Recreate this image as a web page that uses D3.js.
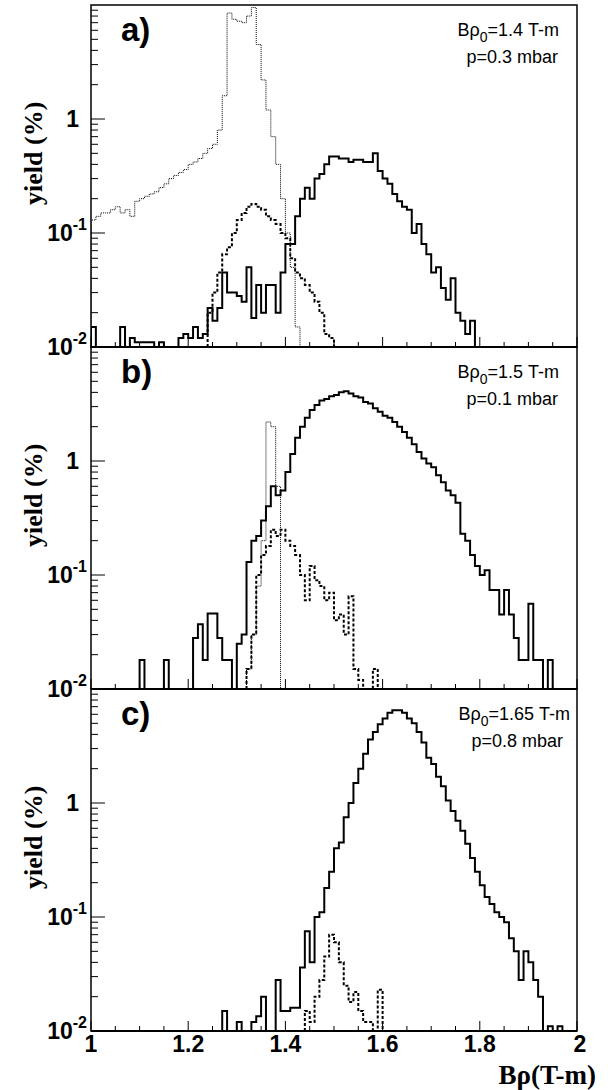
<!DOCTYPE html>
<html><head><meta charset="utf-8">
<script src="https://cdn.jsdelivr.net/npm/d3@7"></script>
<style>body{margin:0;background:#fff}</style>
</head><body>
<svg id="c" width="608" height="1090"></svg>
<script>
// histograms, bins of 0.01 in B-rho; each series = [start, values...]
const binW = 0.01;
const aSolid = [1.00, .015,0,0,0,0,0,.015,0,.012,.011, .011,.011,.011,.01,.011,.01,.01,.01,.012,.013,
  .012,.015,.012,.013,.022,.017,.022,.045,.03,.03, .028,.025,.05,.018,.035,.02,.035,.035,.02,.045,
  .08,.08,.14,.2,.25,.2,.3,.33,.4,.47, .47,.45,.45,.42,.44,.44,.42,.42,.5,.35,
  .3,.27,.22,.19,.17,.16,.1,.12,.08,.065, .045,.05,.033,.026,.04,.02,.017,.013,.017,0, .01,0,.01];
const aDash = [1.24, .02,.03,.045,.065,.075,.1,.13,.15,.17, .18,.17,.16,.14,.13,.12,.1,.09,.06,.045,
  .04,.035,.03,.025,.02,.013,.012];
const aDot = [1.00, .13,.14,.15,.15,.16,.17,.15,.16,.14,.19, .2,.21,.22,.23,.25,.27,.3,.32,.34,.36,
  .4,.42,.45,.5,.55,.6,.8,1.6,8.5,7.5, 7.2,7.0,8.0,9.5,4.5,2.2,1.2,.7,.4,.2, .1,.05,.015];
const bSolid = [1.10, .018,0,0,0,0,.018,0,0,0,0, 0,.028,.037,.018,.046,.046,.028,.018,.018,0,
  .025,.03,.13,.2,.22,.3,.4,.6,.5,.55, .8,1.15,1.6,2.0,2.4,2.8,3.1,3.4,3.5,3.7,
  3.8,4.0,4.1,3.9,3.7,3.6,3.3,3.2,2.9,2.7, 2.5,2.4,2.2,2.0,1.8,1.6,1.4,1.2,1.05,.95,
  .88,.75,.65,.55,.5,.43,.23,.2,.15,.12, .1,.11,.074,.074,.045,.074,.045,.028,.018,.018,
  .056,.018,.018,0,.018];
const bDash = [1.32, .015,.03,.1,.15,.18,.25,.22,.25,.2,.18, .15,.1,.06,.12,.09,.08,.06,.07,.04,.045,
  .03,.065,.015,.012,0,0,.015];
const bDot = [1.32, .015,.03,.08,.2,2.2,2.0,.6];
const cSolid = [1.27, .015,0,0,.012,0,0,.012,.0135,.02,.01, .01,.028,.015,.015,.016,.016,.036,.075,.04,.1,
  .11,.18,.25,.4,.45,.75,1.0,1.5,2.0,2.7, 3.6,4.2,4.9,5.5,6.2,6.5,6.5,6.2,5.5,5.0,
  4.2,3.4,2.5,2.2,1.7,1.4,1.05,.85,.7,.57, .44,.33,.25,.19,.15,.13,.11,.1,.09,.065,
  .05,.028,.05,.04,.028,.02,0,.011,0,.011];
const cDash = [1.44, .015,.012,.02,.028,.045,.07,.06,.04,.025,.018, .022,.015,.012,.012,.01,.023];

const panels = [
  {label:"a)", br:"1.4", p:"0.3", solid:aSolid, dash:aDash, dot:aDot},
  {label:"b)", br:"1.5", p:"0.1", solid:bSolid, dash:bDash, dot:bDot},
  {label:"c)", br:"1.65", p:"0.8", solid:cSolid, dash:cDash, dot:null}
];
const xTicks = [1, 1.2, 1.4, 1.6, 1.8, 2];

const svg = d3.select("#c");
const L = 91, R = 577, tops = [5, 347, 689], H = 342;
const x = d3.scaleLinear().domain([1, 2]).range([L, R]);
const sans = "Liberation Sans, Arial", serif = "Liberation Serif, Times New Roman";

panels.forEach((pn, i) => {
  const top = tops[i], bot = top + H;
  const y = d3.scaleLog().domain([0.01, 10]).range([bot, top]);
  const g = svg.append("g");
  const cid = "clip" + i;
  svg.append("clipPath").attr("id", cid).append("rect")
    .attr("x", L).attr("y", top).attr("width", R - L).attr("height", H);

  function step(s) {
    const x0 = s[0], vals = s.slice(1);
    const pts = [[x(x0), bot]];
    vals.forEach((v, k) => {
      const yy = v > 0.01 ? y(v) : bot;
      pts.push([x(x0 + k * binW), yy]);
      pts.push([x(x0 + (k + 1) * binW), yy]);
    });
    pts.push([x(x0 + vals.length * binW), bot]);
    return d3.line()(pts);
  }
  const plot = g.append("g").attr("clip-path", `url(#${cid})`);
  if (pn.dot) plot.append("path").attr("d", step(pn.dot)).attr("fill", "none")
    .attr("stroke", "#000").attr("stroke-width", 1).attr("stroke-dasharray", "1,1");
  plot.append("path").attr("d", step(pn.dash)).attr("fill", "none")
    .attr("stroke", "#000").attr("stroke-width", 2).attr("stroke-dasharray", "3,2");
  plot.append("path").attr("d", step(pn.solid)).attr("fill", "none")
    .attr("stroke", "#000").attr("stroke-width", 2);

  // frame
  g.append("rect").attr("x", L).attr("y", top).attr("width", R - L).attr("height", H)
    .attr("fill", "none").attr("stroke", "#000").attr("stroke-width", 1.5);
  g.append("line").attr("x1", L).attr("x2", R).attr("y1", bot).attr("y2", bot)
    .attr("stroke", "#000").attr("stroke-width", 2);

  // x ticks (inside, from bottom)
  d3.range(1, 2.0001, 0.05).forEach(t => {
    const major = Math.abs((t - 1) / 0.2 - Math.round((t - 1) / 0.2)) < 1e-6;
    g.append("line").attr("x1", x(t)).attr("x2", x(t)).attr("y1", bot).attr("y2", bot - (major ? 10 : 5))
      .attr("stroke", "#000");
  });
  // y ticks (log)
  [0.01, 0.1, 1].forEach(d => {
    for (let m = 1; m <= 9; m++) {
      const v = d * m;
      g.append("line").attr("x1", L).attr("x2", L + (m === 1 ? 14 : 7))
        .attr("y1", y(v)).attr("y2", y(v)).attr("stroke", "#000");
    }
  });
  const lab = g.append("g").attr("font-family", sans).attr("font-weight", "bold")
    .attr("font-size", 23).attr("text-anchor", "end");
  lab.append("text").attr("x", L - 12).attr("y", y(1) + 8).text("1");
  [[0.1, "-1"], [0.01, "-2"]].forEach(([v, e]) => {
    const t = lab.append("text").attr("x", L - 4).attr("y", y(v) + 8);
    t.append("tspan").text("10");
    t.append("tspan").attr("font-size", 16).attr("dy", -11).text(e);
  });
  g.append("text").attr("transform", `translate(42,${y(0.5)}) rotate(-90)`)
    .attr("text-anchor", "middle").attr("font-family", serif)
    .attr("font-weight", "bold").attr("font-size", 26).text("yield (%)");

  g.append("text").attr("x", 121).attr("y", top + 36).attr("font-family", sans)
    .attr("font-weight", "bold").attr("font-size", 33).text(pn.label);

  const ann = g.append("g").attr("font-family", sans).attr("font-size", 18)
    .attr("text-anchor", "end");
  const t1 = ann.append("text").attr("x", i === 2 ? 570 : 559).attr("y", top + 31);
  t1.append("tspan").text("Bρ");
  t1.append("tspan").attr("font-size", 14).attr("dy", 6).text("0");
  t1.append("tspan").attr("dy", -6).text(`=${pn.br} T-m`);
  ann.append("text").attr("x", i === 2 ? 563 : 558).attr("y", top + 58).text(`p=${pn.p} mbar`);
});

const xl = svg.append("g").attr("font-family", sans).attr("font-weight", "bold")
  .attr("font-size", 23).attr("text-anchor", "middle");
xTicks.forEach(t => xl.append("text").attr("x", x(t) + (t === 2 ? 3 : 0)).attr("y", 1052).text(d3.format("")(t)));
svg.append("text").attr("x", 596).attr("y", 1084).attr("text-anchor", "end")
  .attr("font-family", serif).attr("font-weight", "bold")
  .attr("font-size", 27).text("Bρ(T-m)");
</script>
</body></html>
